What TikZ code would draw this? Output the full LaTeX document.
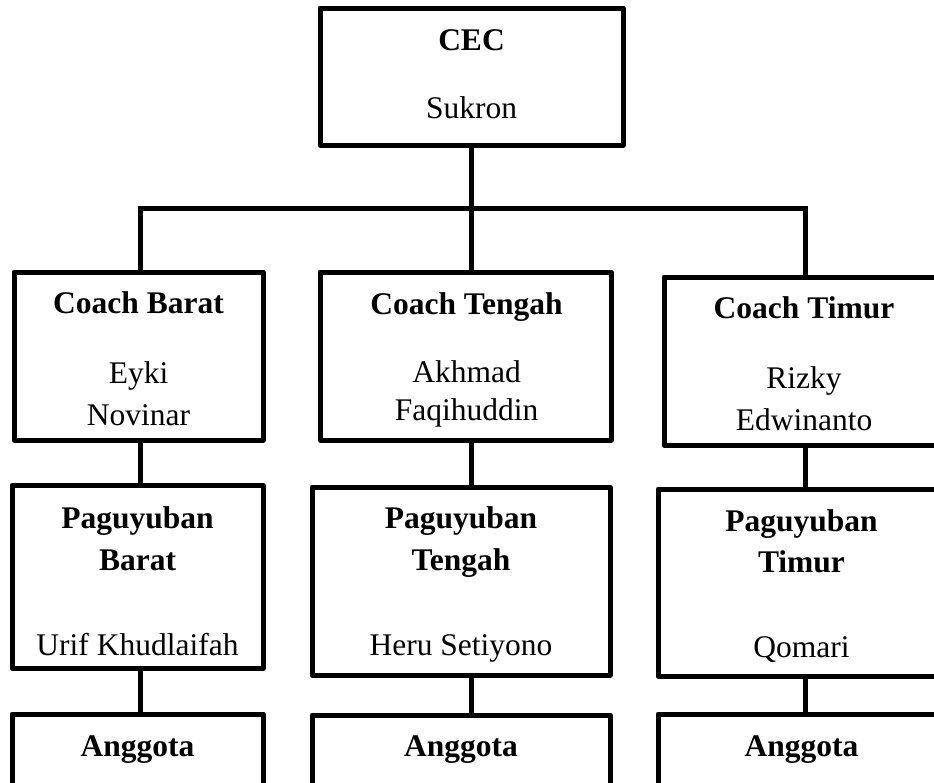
\documentclass[tikz,border=0pt]{standalone}
\usepackage{fontspec}
\setmainfont{Liberation Serif}
\begin{document}
\begin{tikzpicture}[x=1pt,y=-1pt,
  box/.style={draw, line width=5pt, line join=round, inner sep=0pt, outer sep=0pt, rectangle},
  wire/.style={line width=5pt},
  ttl/.style={font=\fontsize{31.5}{41}\selectfont\bfseries, anchor=base, inner sep=0pt},
  nm/.style={font=\fontsize{31.5}{41}\selectfont, anchor=base, inner sep=0pt}]
\useasboundingbox (0,0) rectangle (934,782);
\clip (0,0) rectangle (934,782);
% boxes
\node[box, minimum width=303pt, minimum height=137pt] (cec) at (471.5,76.5) {};
\node[box, minimum width=249pt, minimum height=168pt] (cb) at (138.5,356) {};
\node[box, minimum width=291pt, minimum height=168pt] (ct) at (465.5,356) {};
\node[box, minimum width=280pt, minimum height=168pt] (cti) at (804,361) {};
\node[box, minimum width=251pt, minimum height=183pt] (pb) at (137.5,576.5) {};
\node[box, minimum width=298pt, minimum height=188pt] (pt) at (461,581) {};
\node[box, minimum width=287pt, minimum height=187pt] (pti) at (801.5,582.5) {};
\node[box, minimum width=251pt, minimum height=116pt] (ab) at (137.5,772) {};
\node[box, minimum width=298pt, minimum height=116pt] (at) at (461,773) {};
\node[box, minimum width=287pt, minimum height=116pt] (ati) at (801.5,772) {};
% texts
\node[ttl] (t1) at (471.5,50) {CEC};
\node[nm] (n1) at (471.5,118) {Sukron};
\node[ttl] (t2) at (138.5,313) {Coach Barat};
\node[nm] (n2a) at (138.5,383) {Eyki};
\node[nm] (n2b) at (138.5,425) {Novinar};
\node[ttl] (t3) at (466.5,314) {Coach Tengah};
\node[nm] (n3a) at (466.5,382) {Akhmad};
\node[nm] (n3b) at (466.5,420) {Faqihuddin};
\node[ttl] (t4) at (804,318) {Coach Timur};
\node[nm] (n4a) at (804,388) {Rizky};
\node[nm] (n4b) at (804,430) {Edwinanto};
\node[ttl] (t5a) at (137.5,528) {Paguyuban};
\node[ttl] (t5b) at (137.5,570) {Barat};
\node[nm] (n5) at (137.5,655) {Urif Khudlaifah};
\node[ttl] (t6a) at (461,528) {Paguyuban};
\node[ttl] (t6b) at (461,570) {Tengah};
\node[nm] (n6) at (461,655) {Heru Setiyono};
\node[ttl] (t7a) at (801.5,531) {Paguyuban};
\node[ttl] (t7b) at (801.5,572) {Timur};
\node[nm] (n7) at (801.5,657) {Qomari};
\node[ttl] (t8) at (137.5,756) {Anggota};
\node[ttl] (t9) at (461,756) {Anggota};
\node[ttl] (t10) at (801.5,756) {Anggota};
% connectors
\coordinate (jl) at (140,208);
\coordinate (jm) at (471,208);
\coordinate (jr) at (805,208);
\draw[wire] (jm |- cec.south) -- (jm |- ct.north);
\draw[wire] (jl |- cb.north) |- (jr) -- (jr |- cti.north);
\draw[wire] (jl |- cb.south) -- (jl |- pb.north);
\draw[wire] (jl |- pb.south) -- (jl |- ab.north);
\draw[wire] (jm |- ct.south) -- (jm |- pt.north);
\draw[wire] (jm |- pt.south) -- (jm |- at.north);
\draw[wire] (jr |- cti.south) -- (jr |- pti.north);
\draw[wire] (jr |- pti.south) -- (jr |- ati.north);
\end{tikzpicture}
\end{document}
